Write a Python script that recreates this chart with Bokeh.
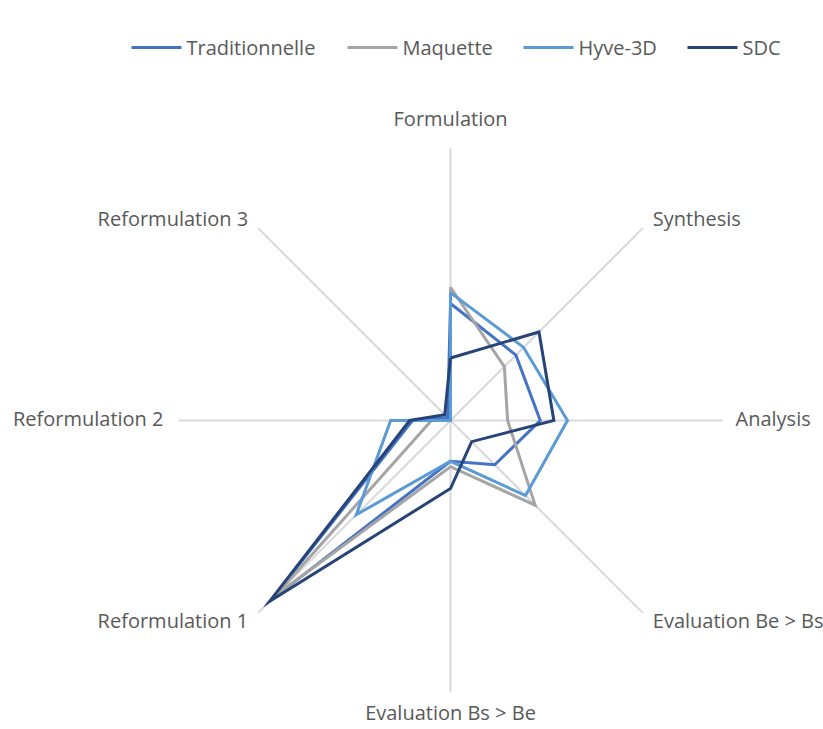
import numpy as np
from bokeh.plotting import figure
from bokeh.models import ColumnDataSource
from bokeh.core.properties import value
from bokeh.embed import file_html
from bokeh.resources import INLINE

categories = ["Formulation", "Synthesis", "Analysis", "Evaluation Be > Bs",
              "Evaluation Bs > Be", "Reformulation 1", "Reformulation 2", "Reformulation 3"]
series_names = ["Traditionnelle", "Maquette", "Hyve-3D", "SDC"]
traditionnelle = [43, 34, 33, 23, 15, 93, 14, 1.5]
maquette = [49, 28, 21, 44, 17, 91, 7, 0]
hyve3d = [47, 38, 43, 39, 15, 49, 22, 0]
sdc = [23, 46, 38, 11, 25, 94, 15, 3]
series_values = [traditionnelle, maquette, hyve3d, sdc]
colors = ["#4472C4", "#A5A5A5", "#5B9BD5", "#264478"]
axis_max = 100

W, H = 823, 729
cx, cy = 450, 420  # centre in figure pixels from left / top
R = 272

p = figure(width=W, height=H, output_backend="svg", toolbar_location=None,
           x_range=(-cx, W - cx), y_range=(-(H - cy), cy), min_border=0)
p.axis.visible = False
p.grid.visible = False
p.outline_line_color = None
p.background_fill_color = "white"

n = len(categories)
angles = np.pi / 2 - np.arange(n) * 2 * np.pi / n

# spokes
p.segment(x0=[0] * n, y0=[0] * n, x1=list(R * np.cos(angles)), y1=list(R * np.sin(angles)),
          line_color="#D9D9D9", line_width=2)

# series
for name, vals, col in zip(series_names, series_values, colors):
    r = np.array(vals + vals[:1], dtype=float) / axis_max * R
    a = np.concatenate([angles, angles[:1]])
    p.line(x=list(r * np.cos(a)), y=list(r * np.sin(a)), line_color=col, line_width=3,
           line_join="miter")

# category labels
font = value("Open Sans")
fs = "20px"
lab_x, lab_y, lab_align = [], [], []
for a in angles:
    ex, ey = R * np.cos(a), R * np.sin(a)
    c, s = np.cos(a), np.sin(a)
    if abs(c) < 1e-6:
        lab_x.append(ex)
        lab_y.append(ey + (30 if s > 0 else -20))
        lab_align.append("center")
    elif abs(s) < 1e-6:
        lab_x.append(ex + (13 if c > 0 else -15))
        lab_y.append(ey + 2)
        lab_align.append("left" if c > 0 else "right")
    else:
        lab_x.append(ex + (10 if c > 0 else -10))
        lab_y.append(ey + (10 if s > 0 else -8))
        lab_align.append("left" if c > 0 else "right")
src = ColumnDataSource(dict(x=lab_x, y=lab_y, t=categories, align=lab_align))
p.text(x="x", y="y", text="t", text_align="align", text_baseline="middle",
       text_font=font, text_font_size=fs, text_color="#595959", source=src)

# legend (manual)
leg_y = cy - 47
leg_x0 = [131, 347, 523, 687]
for x0, name, col in zip(leg_x0, series_names, colors):
    p.line(x=[x0 - cx, x0 + 50 - cx], y=[leg_y, leg_y], line_color=col, line_width=3)
    p.text(x=[x0 + 55 - cx], y=[leg_y], text=[name], text_font=font, text_font_size=fs,
           text_color="#595959", text_baseline="middle", text_align="left")

open("out.html", "w").write(file_html(p, INLINE))
